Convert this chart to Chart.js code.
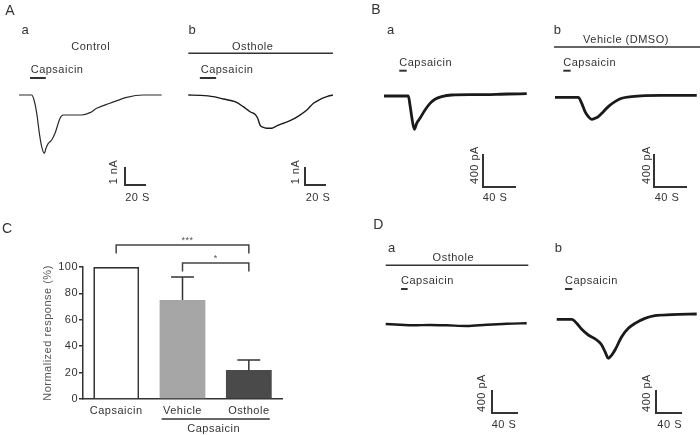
<!DOCTYPE html>
<html><head><meta charset="utf-8">
<script src="https://cdn.jsdelivr.net/npm/chart.js@4.4.1/dist/chart.umd.min.js"></script>
<style>
html,body{margin:0;padding:0;background:#fff;}
#fig{position:relative;width:700px;height:435px;overflow:hidden;font-family:'Liberation Sans',Arial,sans-serif;color:#333;}
canvas{position:absolute;}
.t{position:absolute;white-space:nowrap;font-size:11px;letter-spacing:0.5px;line-height:1;}
</style></head><body><div id="fig"></div>
<script>
// ---------------- DATA ----------------
// Panel A (time in s, current in nA)
const aaTime    = [0,12,14.3,16.9,19.4,21.6,24.1,25.7,27.9,31.1,34.3,39,42.2,54.9,59.7,67.6,74,86.7,102.6,118.4,135.9];
const aaCurrent = [0,0,-0.28,-1.02,-2.13,-2.87,-3.24,-2.96,-2.69,-2.5,-2.13,-1.30,-1.11,-1.11,-1.11,-0.98,-0.74,-0.46,-0.13,0,0];
const aaCapsaicin = [10.5,25.5];
const abTime    = [0,11.1,23.8,33.3,44.5,52.4,58.8,63.5,66.1,68.3,70.9,74.7,79.4,84.2,90.6,96.9,104.9,112.9,119.2,125.6,132,137.7];
const abCurrent = [0,-0.02,-0.09,-0.22,-0.37,-0.65,-0.93,-1.07,-1.29,-1.67,-1.79,-1.85,-1.85,-1.72,-1.57,-1.43,-1.17,-0.83,-0.46,-0.24,-0.09,0];
const abCapsaicin = [11,26.5];
const abOsthole = [0,137.7];
const scaleA = [20,1];          // 20 s, 1 nA
// Panel B (time in s, current in pA)
const baTime    = [0,29.5,31.5,33.6,36.7,39.6,43.6,49.7,55.8,61.8,69.9,82,110.3,150.7,173];
const baCurrent = [0,0,-109,-251,-404,-331,-271,-170,-89,-40,-8,12,16,24,28];
const baCapsaicin = [18.5,27.5];
const bbTime    = [0,28.2,32.4,36.4,40.4,44.5,48.5,52.5,58.6,64.6,72.7,80.8,93,109,129,171.8];
const bbCurrent = [0,0,-73,-174,-234,-267,-255,-234,-174,-113,-53,-12,8,20,24,24];
const bbCapsaicin = [10,19];
const bbVehicle = [-1.2,176];
const scaleB = [40,400];        // 40 s, 400 pA
// Panel D (time in s, current in pA)
const daTime    = [0,22,42.5,68.2,93.8,124.6,155.4,186.2,216.9];
const daCurrent = [0,-12,-23,-17,-23,-35,-12,5,12];
const daCapsaicin = [23.5,33.8];
const daOsthole = [0,219.4];
const dbTime    = [0,23.1,30.8,38.5,48.6,61.5,69.2,74.3,79.4,84.6,89.7,100,110.2,120.5,135.8,151.2,176.9,215.4];
const dbCurrent = [0,0,-70,-174,-273,-360,-447,-563,-678,-621,-534,-303,-157,-70,17,63,80,92];
const dbCapsaicin = [12.8,24];
const scaleD = [40,400];        // 40 s, 400 pA
// Panel C
const categories = ['Capsaicin','Vehicle','Osthole'];
const meanResponse = [100,75,22];
const semResponse = [0,17.5,7.5];
const sigPairs = [[0,2],[1,2]];
const sigLabels = ['***','*'];
const groupLabel = 'Capsaicin';

// ---------------- LAYOUT ----------------
const FONT = "'Liberation Sans', Arial, sans-serif";
Chart.defaults.font.family = FONT;
const fig = document.getElementById('fig');

function mkCanvas(L,T,W,H){
  const c=document.createElement('canvas');
  c.width=W;c.height=H;c.style.left=L+'px';c.style.top=T+'px';c.style.width=W+'px';c.style.height=H+'px';
  fig.appendChild(c);return c;
}
function txt(s,x,y,mode,size,color){
  const d=document.createElement('div');d.className='t';d.textContent=s;
  d.style.left=x+'px';d.style.top=y+'px';
  if(size)d.style.fontSize=size+'px';
  if(color)d.style.color=color;
  if(size>=13)d.style.letterSpacing='0px';
  d.style.transform= mode==='l'?'translate(0,-50%)': mode==='r'?'translate(-50%,-50%) rotate(-90deg)':'translate(-50%,-50%)';
  fig.appendChild(d);
}

const traceMarks = {
  id:'traceMarks',
  afterDatasetsDraw(chart){
    const o = chart.config.options.plugins.traceMarks;
    const {ctx, scales:{x,y}} = chart;
    ctx.save();
    ctx.strokeStyle='#333';ctx.lineCap='butt';
    const hline=(t0,t1,py,w)=>{ctx.lineWidth=w;ctx.beginPath();ctx.moveTo(x.getPixelForValue(t0),py-o.T);ctx.lineTo(x.getPixelForValue(t1),py-o.T);ctx.stroke();};
    hline(o.caps[0],o.caps[1],o.capsY,2);
    if(o.drug) hline(o.drug[0],o.drug[1],o.drugY,1.4);
    const dx = x.getPixelForValue(o.sb[0]) - x.getPixelForValue(0);
    const dy = y.getPixelForValue(0) - y.getPixelForValue(o.sb[1]);
    const cx=o.corner[0]-o.L, cy=o.corner[1]-o.T;
    ctx.lineWidth=2;ctx.lineJoin='miter';
    ctx.beginPath();ctx.moveTo(cx,cy-dy);ctx.lineTo(cx,cy);ctx.lineTo(cx+dx,cy);ctx.stroke();
    ctx.restore();
  }
};

function tracePanel(p){
  const [L,T,W,H]=p.rect;
  const c=mkCanvas(L,T,W,H);
  const xmin=-(p.x0-L)/p.kx, xmax=xmin+W/p.kx;
  const ymax=(p.y0-T)/p.ky, ymin=ymax-H/p.ky;
  new Chart(c,{type:'line',
    data:{datasets:[{data:p.t.map((tt,k)=>({x:tt,y:p.i[k]})),borderColor:p.col||'#1a1a1a',borderWidth:p.lw,pointRadius:0,cubicInterpolationMode:'monotone',clip:false,fill:false}]},
    options:{responsive:false,animation:false,events:[],layout:{padding:0},
      plugins:{legend:{display:false},tooltip:{enabled:false},
        traceMarks:{L,T,caps:p.caps,capsY:p.capsY,drug:p.drug,drugY:p.drugY,sb:p.sb,corner:p.corner}},
      scales:{x:{type:'linear',display:false,min:xmin,max:xmax},y:{type:'linear',display:false,min:ymin,max:ymax}}},
    plugins:[traceMarks]});
}

tracePanel({t:aaTime,i:aaCurrent,rect:[0,0,178,215],x0:19,y0:95,kx:1.05,ky:18,lw:1.2,col:'#2a2a2a',caps:aaCapsaicin,capsY:78,drug:null,sb:scaleA,corner:[125,185]});
tracePanel({t:abTime,i:abCurrent,rect:[178,0,172,215],x0:188.3,y0:95,kx:1.05,ky:18,lw:1.4,caps:abCapsaicin,capsY:78,drug:abOsthole,drugY:53.3,sb:scaleA,corner:[305,185]});
tracePanel({t:baTime,i:baCurrent,rect:[350,0,190,215],x0:384,y0:96,kx:0.825,ky:0.0825,lw:2.8,caps:baCapsaicin,capsY:70.7,drug:null,sb:scaleB,corner:[483,187]});
tracePanel({t:bbTime,i:bbCurrent,rect:[540,0,160,215],x0:555,y0:97.3,kx:0.825,ky:0.0825,lw:2.8,caps:bbCapsaicin,capsY:70.7,drug:bbVehicle,drugY:47,sb:scaleB,corner:[654,187]});
tracePanel({t:daTime,i:daCurrent,rect:[350,215,190,220],x0:385.7,y0:324,kx:0.65,ky:0.0575,lw:2.4,caps:daCapsaicin,capsY:289,drug:daOsthole,drugY:265.3,sb:scaleD,corner:[492,413]});
tracePanel({t:dbTime,i:dbCurrent,rect:[540,215,160,220],x0:556.7,y0:319.3,kx:0.65,ky:0.0575,lw:2.8,caps:dbCapsaicin,capsY:289,drug:null,sb:scaleD,corner:[656,413]});

// ---------------- PANEL C ----------------
const spacing = {id:'spacing',beforeDraw(chart){try{chart.ctx.letterSpacing='0.5px';}catch(e){}}};
const cMarks = {
  id:'cMarks',
  afterDatasetsDraw(chart){
    const {ctx, scales:{x,y}} = chart;
    const meta = chart.getDatasetMeta(0);
    ctx.save();
    ctx.strokeStyle='#333';ctx.lineWidth=1.5;
    // error bars (upper only)
    semResponse.forEach((e,k)=>{
      if(!e) return;
      const px=x.getPixelForValue(k), half=meta.data[k].width/4;
      const top=y.getPixelForValue(meanResponse[k]+e), base=y.getPixelForValue(meanResponse[k]);
      ctx.beginPath();ctx.moveTo(px,base);ctx.lineTo(px,top);ctx.moveTo(px-half,top);ctx.lineTo(px+half,top);ctx.stroke();
    });
    // significance brackets
    const levels=[116.6,103], leg=8.5;
    ctx.strokeStyle='#444';
    sigPairs.forEach((pr,k)=>{
      const x1=x.getPixelForValue(pr[0]), x2=x.getPixelForValue(pr[1]), yy=y.getPixelForValue(levels[k]);
      ctx.beginPath();ctx.moveTo(x1,yy+leg);ctx.lineTo(x1,yy);ctx.lineTo(x2,yy);ctx.lineTo(x2,yy+leg);ctx.stroke();
      ctx.fillStyle='#555';ctx.font='9px '+FONT;ctx.textAlign='center';ctx.textBaseline='middle';
      ctx.fillText(sigLabels[k],(x1+x2)/2+(k===0?5:0),yy-5);
    });
    // group underline + label
    const g1=x.getPixelForValue(1)-meta.data[1].width/2+2, g2=x.getPixelForValue(2)+meta.data[2].width/2-2;
    const gy=y.bottom+20;
    ctx.strokeStyle='#333';ctx.lineWidth=1.3;
    ctx.beginPath();ctx.moveTo(g1,gy);ctx.lineTo(g2,gy);ctx.stroke();
    ctx.fillStyle='#333';ctx.font='11px '+FONT;ctx.textAlign='center';ctx.textBaseline='middle';
    ctx.fillText(groupLabel,(x.getPixelForValue(1)+x.getPixelForValue(2))/2-2,gy+9.5);
    ctx.restore();
  }
};
const cC = mkCanvas(0,230,300,205);
new Chart(cC,{type:'bar',
  data:{labels:categories,datasets:[{data:meanResponse,
    backgroundColor:['#ffffff','#a6a6a6','#4a4a4a'],
    borderColor:['#333333','#a6a6a6','#4a4a4a'],borderWidth:[1.7,0,0],borderSkipped:'start',
    barPercentage:0.69,categoryPercentage:1}]},
  options:{responsive:false,animation:false,events:[],
    layout:{padding:{left:0,top:37,right:18,bottom:0}},
    plugins:{legend:{display:false},tooltip:{enabled:false}},
    scales:{
      x:{grid:{display:false,drawTicks:false},border:{display:true,color:'#333',width:1.5},
         ticks:{color:'#333',font:{size:11},padding:5},afterFit(s){s.height=36;}},
      y:{min:0,max:100,ticks:{stepSize:20,color:'#333',font:{size:11},padding:1},
         grid:{display:true,drawOnChartArea:false,drawTicks:true,tickLength:4,color:'#333',lineWidth:1.5},
         border:{display:true,color:'#333',width:1.5},
         title:{display:true,text:'Normalized response (%)',color:'#555',font:{size:11},padding:{top:41.4,bottom:0}},
         afterFit(s){s.width=83;}}
    }},
  plugins:[spacing,cMarks]});

// ---------------- TEXT ----------------
txt('A',10,10,'c',14);
txt('a',25,29,'c',13); txt('b',192,29,'c',13);
txt('Control',90.7,46,'c'); txt('Osthole',252.7,46,'c');
txt('Capsaicin',30.7,69,'l'); txt('Capsaicin',200.7,69,'l');
txt('1 nA',113,172,'r'); txt('1 nA',295,172,'r');
txt('20 S',137.5,197,'c'); txt('20 S',318,197,'c');

txt('B',376,9.3,'c',14);
txt('a',390.7,29.3,'c',13); txt('b',557.3,29,'c',13);
txt('Vehicle (DMSO)',626,39.3,'c');
txt('Capsaicin',399.3,61.7,'l'); txt('Capsaicin',563.3,61.7,'l');
txt('400 pA',473.5,165,'r'); txt('400 pA',645.5,165,'r');
txt('40 S',495,197,'c'); txt('40 S',667,197,'c');

txt('C',7,228,'c',14);

txt('D',378.3,224,'c',14);
txt('a',391.7,247.3,'c',13); txt('b',558.3,247.3,'c',13);
txt('Osthole',453.3,257.3,'c');
txt('Capsaicin',401,280,'l'); txt('Capsaicin',565,280,'l');
txt('400 pA',481,392.5,'r'); txt('400 pA',646,392.5,'r');
txt('40 S',504,424,'c'); txt('40 S',669.7,424,'c');
</script></body></html>
